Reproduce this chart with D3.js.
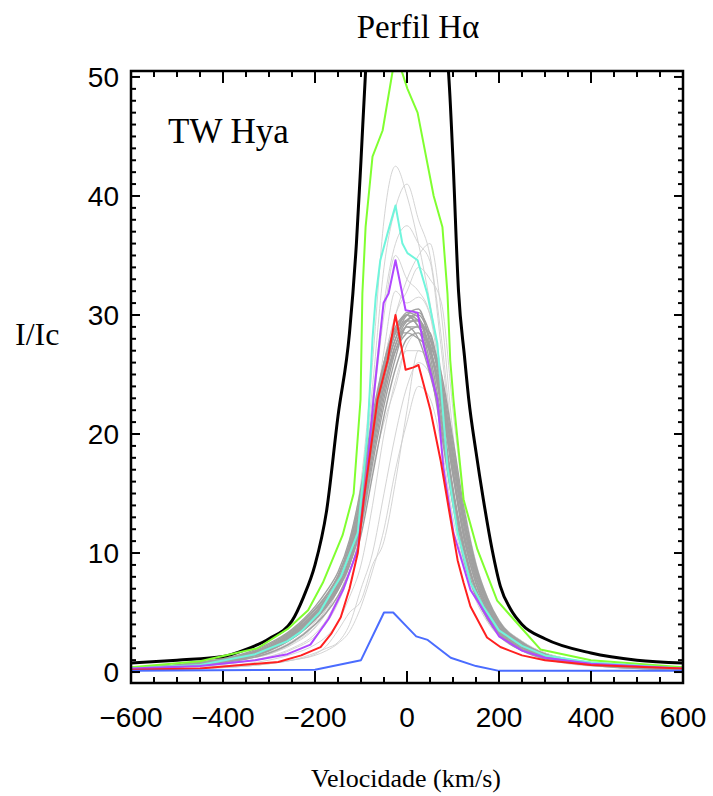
<!DOCTYPE html>
<html>
<head>
<meta charset="utf-8">
<script src="https://cdn.jsdelivr.net/npm/d3@7"></script>
<style>
  body { margin: 0; background: #fff; }
  svg { display: block; }
</style>
</head>
<body>
<svg id="chart" width="713" height="796"></svg>
<script>
// velocities (km/s) and I/Ic values
var blackVel = [-600, -500, -400, -350, -300, -250, -225, -200, -175, -150, -125, -110, -100, -90, -60, -30, 0, 30, 60, 90, 100, 112, 125, 134, 150, 166, 185, 203, 225, 250, 300, 400, 500, 600];
var blackVal = [0.75, 1.0, 1.3, 1.9, 2.8, 4.3, 6.3, 9.0, 13.5, 21.5, 28.5, 36, 43, 50.5, 60, 64, 64, 62, 58, 50.5, 43, 32, 26.5, 23, 18.5, 14.5, 10.3, 7.2, 5.3, 4.0, 2.8, 1.6, 1.0, 0.75];

var greenVel = [-600, -450, -325, -260, -215, -183, -140, -116, -101, -97, -90, -75, -53, -29, -20, 1, 23, 58, 77, 88, 94, 101, 123, 153, 196, 290, 400, 600];
var greenVal = [0.4, 0.9, 2.0, 3.6, 5.2, 7.5, 11.5, 15, 22.9, 31.8, 37.4, 43.3, 45.5, 51, 51.5, 49, 47, 40, 37.4, 31.8, 26.2, 22.9, 14.5, 10.3, 6.0, 1.9, 1.0, 0.4];

var cyanVel = [-600, -450, -330, -260, -230, -190, -160, -144, -107, -86, -75, -68, -58, -42, -25, -10, 1, 23, 44, 66, 88, 110, 138, 166, 200, 250, 300, 400, 600];
var cyanVal = [0.3, 0.6, 1.5, 2.6, 3.4, 5, 7, 8, 11.7, 20, 28, 31.5, 34.6, 36.9, 39.2, 36, 35.2, 34.6, 31.8, 27.6, 17.2, 11.7, 7.5, 5.5, 3.5, 2.2, 1.4, 0.8, 0.3];

var purpleVel = [-600, -450, -330, -260, -210, -170, -138, -107, -86, -73, -64, -51, -40, -25, -3, 23, 36, 66, 79, 101, 138, 153, 200, 250, 300, 400, 600];
var purpleVal = [0.3, 0.5, 1.0, 1.5, 2.3, 4.5, 7, 10.3, 17.2, 22.9, 26.2, 31, 31.8, 34.6, 30.4, 30.2, 27.5, 22.9, 17.2, 11.7, 6.9, 6, 3, 1.8, 1.2, 0.7, 0.3];

var redVel = [-600, -450, -280, -230, -188, -165, -144, -125, -107, -94, -79, -64, -42, -25, -3, 14, 25, 51, 73, 94, 110, 123, 138, 174, 203, 250, 300, 400, 600];
var redVal = [0.2, 0.3, 0.85, 1.4, 2.1, 3.2, 4.6, 7, 10, 14.5, 18.7, 22.9, 26.2, 30, 25.4, 25.6, 25.8, 22, 17.8, 13, 9.4, 7.5, 5.5, 2.9, 2.1, 1.4, 1.0, 0.6, 0.3];

var blueVel = [-600, -200, -100, -50, -30, 0, 20, 45, 95, 150, 200, 600];
var blueVal = [0.1, 0.2, 1.0, 5.0, 5.0, 3.8, 3.0, 2.7, 1.2, 0.5, 0.1, 0.1];

// grey profiles share one velocity grid
var greyVel = [-600, -450, -350, -300, -250, -200, -175, -150, -125, -100, -75, -50, -25, 0, 25, 50, 75, 100, 125, 150, 175, 200, 250, 300, 350, 450, 600];
// dense band of profiles
var greyDense = [
  [0.3, 0.7, 1.2, 1.8, 2.8, 4.4, 5.5, 6.9, 9.0, 12.5, 18, 23, 27, 29, 29, 26, 20.5, 14.5, 9.5, 6.5, 4.5, 3.2, 1.9, 1.2, 0.9, 0.5, 0.3],
  [0.3, 0.7, 1.4, 2.1, 3.2, 4.9, 6.1, 7.6, 9.9, 13.5, 19.5, 24.5, 28, 30, 30.5, 27.5, 22, 15.5, 10.5, 7, 5, 3.5, 2.1, 1.3, 1.0, 0.6, 0.3],
  [0.2, 0.6, 1.1, 1.6, 2.5, 4.0, 5.0, 6.4, 8.4, 11.5, 16.5, 21.5, 25.5, 28, 28.5, 25.5, 20, 14, 9.2, 6.3, 4.4, 3.1, 1.8, 1.1, 0.8, 0.4, 0.2],
  [0.3, 0.8, 1.5, 2.2, 3.4, 5.2, 6.4, 8.0, 10.6, 14.8, 21, 26, 29, 30, 29.5, 27, 22.5, 16.5, 11, 7.5, 5.3, 3.7, 2.2, 1.4, 1.0, 0.6, 0.3],
  [0.2, 0.7, 1.3, 1.9, 3.0, 4.6, 5.7, 7.1, 9.3, 12.8, 18.5, 23.5, 27.5, 29.5, 30, 28, 23.5, 17, 11.5, 7.8, 5.4, 3.8, 2.3, 1.4, 1.0, 0.5, 0.2],
  [0.3, 0.7, 1.4, 2.0, 3.1, 4.8, 5.9, 7.4, 10.1, 14.2, 20.2, 25.2, 28.6, 30.2, 29.8, 26.6, 21.4, 15.2, 10.2, 6.9, 4.8, 3.4, 2.0, 1.3, 0.9, 0.5, 0.3],
  [0.2, 0.6, 1.2, 1.8, 2.9, 4.5, 5.6, 7.0, 9.0, 12.2, 17.5, 22.4, 26.4, 29.2, 29.6, 27.2, 22.8, 16.6, 11.2, 7.4, 5.1, 3.6, 2.2, 1.3, 0.9, 0.5, 0.2],
  [0.3, 0.7, 1.4, 2.1, 3.3, 5.0, 6.2, 7.7, 10.2, 14, 20, 25, 28, 29.5, 29.5, 28, 25, 19.5, 13.5, 9, 6.2, 4.3, 2.5, 1.5, 1.0, 0.6, 0.3],
  [0.3, 0.8, 1.5, 2.3, 3.5, 5.3, 6.5, 8.1, 10.8, 15, 21, 25.5, 28.5, 30, 29, 27.5, 24.5, 19, 13, 8.8, 6.0, 4.2, 2.5, 1.5, 1.0, 0.6, 0.3],
  [0.3, 0.8, 1.6, 2.4, 3.6, 5.5, 6.8, 8.4, 11.1, 15.5, 21.5, 26, 28.5, 28.5, 28, 27, 23.5, 18, 12.5, 8.4, 5.8, 4.0, 2.4, 1.5, 1.0, 0.6, 0.3],
  [0.2, 0.6, 1.2, 1.8, 2.8, 4.4, 5.5, 6.9, 9.3, 13, 19, 24, 27, 28.5, 29, 28.5, 24, 18.5, 12.8, 8.6, 5.9, 4.1, 2.4, 1.4, 1.0, 0.5, 0.2],
  [0.3, 0.7, 1.3, 2.0, 3.1, 4.7, 5.8, 7.2, 9.5, 13.2, 19, 24, 27.5, 29, 28, 25, 21, 15, 10, 6.8, 4.7, 3.3, 2.0, 1.3, 0.9, 0.5, 0.3],
  [0.3, 0.7, 1.4, 2.0, 3.1, 4.8, 5.9, 7.4, 9.9, 13.8, 20, 25, 28.5, 30, 29, 27, 23, 17.5, 12, 8, 5.5, 3.8, 2.2, 1.4, 1.0, 0.5, 0.3],
  [0.3, 0.8, 1.5, 2.1, 3.3, 5.0, 6.2, 7.7, 10.3, 14.3, 20.5, 25.5, 28.8, 29.6, 30.2, 28.4, 24.2, 18.2, 12.4, 8.3, 5.7, 4.0, 2.3, 1.4, 1.0, 0.6, 0.3]
];
// fainter, more scattered profiles
var greyFaint = [
  [0.4, 0.7, 1.2, 1.7, 2.6, 4.2, 5.6, 7.8, 11, 16, 26, 38, 42.5, 40, 36, 31, 25, 18, 12, 8.2, 5.8, 4.1, 2.5, 1.6, 1.1, 0.7, 0.4],
  [0.4, 0.7, 1.2, 1.6, 2.5, 4.0, 5.4, 7.5, 10.6, 15.5, 24, 34, 39, 41, 38, 35, 28, 19, 12.5, 8.4, 5.9, 4.2, 2.5, 1.6, 1.1, 0.7, 0.4],
  [0.3, 0.6, 1.1, 1.5, 2.4, 3.8, 5.1, 7.1, 10, 14, 20, 26, 30, 33, 35, 36, 30, 20, 13, 8.8, 6.1, 4.3, 2.6, 1.6, 1.1, 0.6, 0.3],
  [0.3, 0.6, 1.1, 1.5, 2.3, 3.7, 5.0, 7.0, 9.9, 14.5, 22, 30, 35, 33, 32, 30, 24, 17, 11.5, 7.8, 5.5, 3.9, 2.4, 1.5, 1.0, 0.6, 0.3],
  [0.2, 0.3, 0.5, 0.7, 1.0, 1.6, 2.0, 2.5, 4.0, 7.0, 10, 15, 20, 24, 26, 25, 21, 15, 10, 6.5, 4.5, 3.2, 1.9, 1.2, 0.8, 0.4, 0.2],
  [0.2, 0.3, 0.5, 0.7, 1.0, 1.5, 2.2, 3.5, 5.0, 6.0, 9, 11, 16, 22, 27, 26, 20, 14, 9.5, 6.4, 4.5, 3.2, 1.9, 1.2, 0.8, 0.4, 0.2],
  [0.3, 0.5, 0.9, 1.3, 2.0, 3.2, 4.4, 6.3, 9.0, 13.5, 20, 27, 32, 31, 31.5, 30, 25, 18, 12, 8, 5.6, 3.9, 2.3, 1.4, 1.0, 0.5, 0.3],
  [0.3, 0.5, 0.9, 1.2, 1.9, 3.0, 4.1, 5.8, 8.3, 12, 17, 21, 24, 27.5, 28.5, 27, 23, 17.5, 12, 8, 5.6, 4.0, 2.4, 1.4, 1.0, 0.5, 0.3],
  [0.4, 0.6, 1.1, 1.6, 2.5, 4.0, 5.4, 7.5, 10.5, 15, 23, 31, 36, 37.5, 36, 34.5, 27, 18.5, 12.3, 8.3, 5.8, 4.1, 2.5, 1.5, 1.0, 0.6, 0.4],
  [0.3, 0.6, 1.1, 1.6, 2.5, 4.0, 5.3, 7.3, 10.3, 14.5, 20.5, 26, 30, 32, 34, 33, 31, 22, 14, 9.2, 6.3, 4.4, 2.6, 1.6, 1.1, 0.6, 0.3],
  [0.2, 0.3, 0.5, 0.7, 1.0, 1.4, 1.8, 2.4, 3.4, 5.5, 8.5, 12, 17, 21, 24, 23, 19, 13, 8.8, 6.0, 4.2, 3.0, 1.8, 1.1, 0.7, 0.4, 0.2],
  [0.2, 0.4, 0.7, 1.0, 1.5, 2.3, 3.0, 4.2, 6.3, 9, 14, 20, 24.5, 27, 27, 26, 22.5, 16.5, 11, 7.4, 5.1, 3.6, 2.1, 1.3, 0.9, 0.5, 0.2]
];

var xTicks = [-600, -400, -200, 0, 200, 400, 600];
var yTicks = [0, 10, 20, 30, 40, 50];

var svg = d3.select("#chart");
var plot = {left: 131, right: 683, top: 71, bottom: 683};

var x = d3.scaleLinear().domain([-600, 600]).range([plot.left, plot.right]);
var y = d3.scaleLinear().domain([-0.92, 50.5]).range([plot.bottom, plot.top]);

svg.append("defs").append("clipPath")
    .attr("id", "clip")
    .append("rect")
    .attr("x", plot.left).attr("y", plot.top)
    .attr("width", plot.right - plot.left)
    .attr("height", plot.bottom - plot.top);

var line = d3.line().x(d => x(d[0])).y(d => y(d[1]));
var smooth = d3.line().x(d => x(d[0])).y(d => y(d[1])).curve(d3.curveMonotoneX);
var lines = svg.append("g").attr("clip-path", "url(#clip)");

function draw(vel, val, color, width, gen) {
    lines.append("path")
        .datum(d3.zip(vel, val))
        .attr("d", gen || line)
        .attr("fill", "none")
        .attr("stroke", color)
        .attr("stroke-width", width)
        .attr("stroke-linejoin", "round");
}

greyFaint.forEach(vals => draw(greyVel, vals, "#cfcfcf", 0.9, smooth));
greyDense.forEach(vals => draw(greyVel, vals, "#a0a0a0", 1.4, smooth));
draw(blackVel, blackVal, "#000", 3, smooth);
draw(greenVel, greenVal, "#80ff30", 2);
draw(cyanVel, cyanVal, "#70f5dc", 2);
draw(purpleVel, purpleVal, "#b048ff", 2);
draw(redVel, redVal, "#ff2020", 2);
draw(blueVel, blueVal, "#4a6cff", 2);

// frame with inward ticks on all four sides
var frame = svg.append("g").attr("stroke", "#000");
var xMinor = d3.range(-600, 601, 50);
var yMinor = d3.range(0, 51, 1);

xMinor.forEach(v => {
    var len = v % 200 === 0 ? 12 : 6;
    frame.append("line").attr("x1", x(v)).attr("x2", x(v))
        .attr("y1", plot.bottom).attr("y2", plot.bottom - len).attr("stroke-width", 2);
    frame.append("line").attr("x1", x(v)).attr("x2", x(v))
        .attr("y1", plot.top).attr("y2", plot.top + len).attr("stroke-width", 2);
});
yMinor.forEach(v => {
    var len = v % 10 === 0 ? 9 : 5;
    frame.append("line").attr("y1", y(v)).attr("y2", y(v))
        .attr("x1", plot.left).attr("x2", plot.left + len).attr("stroke-width", 2);
    frame.append("line").attr("y1", y(v)).attr("y2", y(v))
        .attr("x1", plot.right).attr("x2", plot.right - len).attr("stroke-width", 2);
});
frame.append("rect")
    .attr("x", plot.left).attr("y", plot.top)
    .attr("width", plot.right - plot.left)
    .attr("height", plot.bottom - plot.top)
    .attr("fill", "none").attr("stroke-width", 2.5);

var sans = "'Liberation Sans', Arial, Helvetica, sans-serif";
var serif = "'Liberation Serif', 'Times New Roman', Times, serif";

svg.append("g").selectAll("text").data(xTicks).join("text")
    .attr("x", d => x(d)).attr("y", 727)
    .attr("text-anchor", "middle")
    .attr("font-family", sans).attr("font-size", 28)
    .text(d => d < 0 ? "\u2212" + Math.abs(d) : d);

svg.append("g").selectAll("text").data(yTicks).join("text")
    .attr("x", 119).attr("y", d => y(d) + 10)
    .attr("text-anchor", "end")
    .attr("font-family", sans).attr("font-size", 28)
    .text(d => d);

svg.append("text").attr("x", 418).attr("y", 38)
    .attr("text-anchor", "middle").attr("font-family", serif).attr("font-size", 33)
    .text("Perfil H\u03b1");

svg.append("text").attr("x", 168).attr("y", 143)
    .attr("font-family", serif).attr("font-size", 35)
    .text("TW Hya");

svg.append("text").attr("x", 15).attr("y", 345)
    .attr("font-family", serif).attr("font-size", 32)
    .text("I/Ic");

svg.append("text").attr("x", 406).attr("y", 787)
    .attr("text-anchor", "middle").attr("font-family", serif).attr("font-size", 26)
    .text("Velocidade (km/s)");
</script>
</body>
</html>
